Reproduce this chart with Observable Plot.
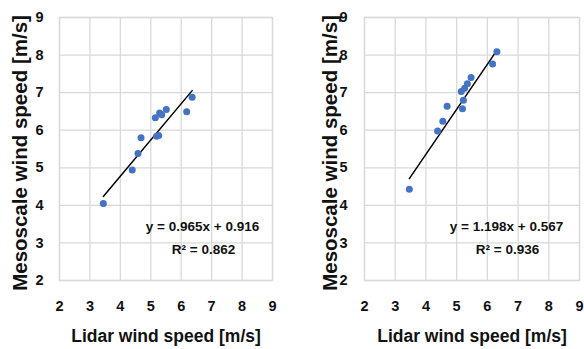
<!DOCTYPE html>
<html>
<head>
<meta charset="utf-8">
<script src="https://cdn.jsdelivr.net/npm/d3@7"></script>
<script src="https://cdn.jsdelivr.net/npm/@observablehq/plot@0.6"></script>
<style>
  html, body { margin: 0; padding: 0; background: white; }
  #wrap { position: relative; width: 584px; height: 349px; overflow: hidden; }
  #wrap svg { position: absolute; top: 0; }
</style>
</head>
<body>
<div id="wrap"></div>
<script>
// Left panel
const lidarA = [3.44, 4.39, 4.58, 4.68, 5.15, 5.19, 5.26, 5.29, 5.36, 5.51, 6.18, 6.36];
const mesoA  = [4.05, 4.94, 5.38, 5.80, 6.33, 5.84, 5.86, 6.46, 6.41, 6.55, 6.49, 6.88];
// Right panel
const lidarB = [3.46, 4.38, 4.55, 4.69, 5.15, 5.19, 5.22, 5.26, 5.35, 5.47, 6.17, 6.31];
const mesoB  = [4.43, 5.98, 6.24, 6.64, 7.03, 6.57, 6.80, 7.12, 7.24, 7.40, 7.76, 8.09];

const slopes = [0.965, 1.198];
const intercepts = [0.916, 0.567];
const r2 = [0.862, 0.936];
const axisTicks = [2, 3, 4, 5, 6, 7, 8, 9];
const xTitle = "Lidar wind speed [m/s]";
const yTitle = "Mesoscale wind speed [m/s]";

const FONT = "'Liberation Sans', Arial, sans-serif";
const GRID = "#d9d9d9";

function panel(xs, ys, k, opts) {
  const pts = xs.map((x, i) => ({x, y: ys[i]}));
  const [x0, x1] = d3.extent(xs);
  const trend = [x0, x1].map(x => ({x, y: slopes[k] * x + intercepts[k]}));
  const eq = `y = ${slopes[k].toFixed(3)}x + ${intercepts[k].toFixed(3)}`;
  const rr = `R² = ${r2[k].toFixed(3)}`;
  return Plot.plot({
    width: 292,
    height: 349,
    marginLeft: opts.ml,
    marginRight: opts.mr,
    marginTop: 17,
    marginBottom: 69,
    style: {fontFamily: FONT, background: "white", color: "#111"},
    x: {domain: [2, 9]},
    y: {domain: [2, 9]},
    marks: [
      Plot.gridX(axisTicks, {stroke: GRID, strokeOpacity: 1, strokeWidth: 1.3}),
      Plot.gridY(axisTicks, {stroke: GRID, strokeOpacity: 1, strokeWidth: 1.3}),
      Plot.frame({stroke: GRID, strokeWidth: 1.3}),
      Plot.axisX(axisTicks, {tickSize: 0, tickPadding: 20, fontSize: 14.5, fontWeight: "bold", label: null}),
      Plot.axisY(axisTicks, {tickSize: 0, tickPadding: opts.ytp, fontSize: 14.5, fontWeight: "bold", label: null}),
      Plot.line(trend, {x: "x", y: "y", stroke: "black", strokeWidth: 1.5}),
      Plot.dot(pts, {x: "x", y: "y", r: 3.5, fill: "#4472C4", stroke: "none"}),
      Plot.text([xTitle], {text: d => d, frameAnchor: "bottom", textAnchor: "middle", dy: 61.5, fontSize: 17.5, fontWeight: "bold"}),
      Plot.text([yTitle], {text: d => d, frameAnchor: "left", textAnchor: "middle", dx: opts.ydx, dy: 4, rotate: -90, fontSize: 20.5, fontWeight: "bold"}),
      Plot.text([eq], {text: d => d, frameAnchor: "bottom-right", textAnchor: "middle", dx: opts.edx, dy: -50, fontSize: 13.5, fontWeight: "bold"}),
      Plot.text([rr], {text: d => d, frameAnchor: "bottom-right", textAnchor: "middle", dx: opts.edx + 1, dy: -27, fontSize: 13.5, fontWeight: "bold"})
    ]
  });
}

const wrap = document.getElementById("wrap");
const a = panel(lidarA, mesoA, 0, {ml: 59, mr: 20, ytp: 16, ydx: -39, edx: -70});
a.style.left = "0px";
const b = panel(lidarB, mesoB, 1, {ml: 72, mr: 5, ytp: 17, ydx: -34, edx: -73});
b.style.left = "292px";
wrap.append(a, b);
</script>
</body>
</html>
